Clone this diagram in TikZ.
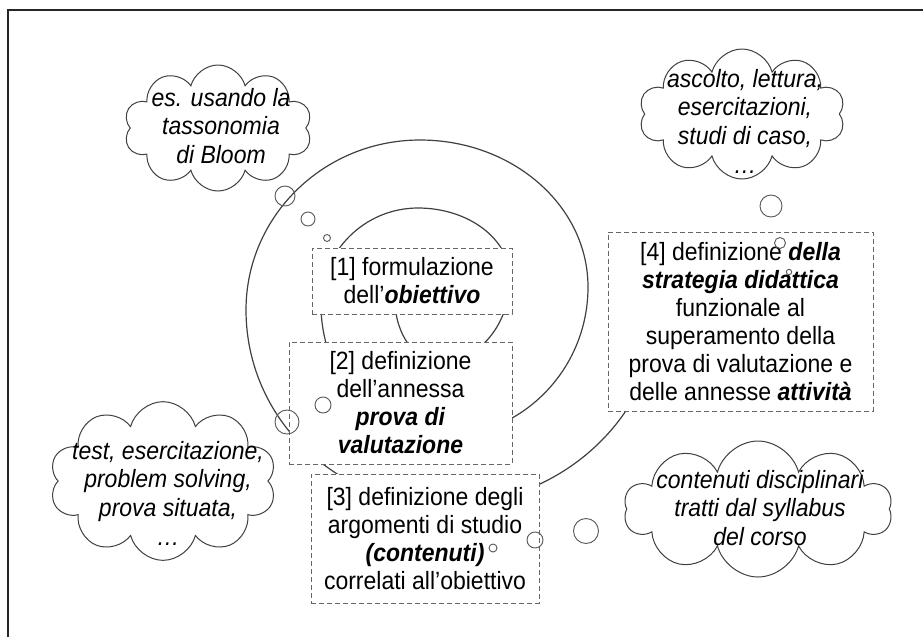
\documentclass[tikz,border=0pt]{standalone}
\usepackage{fontspec}
\setmainfont{Liberation Sans}[FakeStretch=0.92]
\usetikzlibrary{shapes.symbols}

\newcommand{\bfit}[1]{\textbf{\textit{#1}}}

\tikzset{
  spiralline/.style={draw=black!75, line width=0.9pt},
  stepbox/.style={draw=black!60, fill=white, line width=0.75pt, dash pattern=on 3.75pt off 2.25pt,
    align=center, inner sep=0pt, font=\fontsize{18.75}{21}\selectfont},
  bubble/.style={cloud, draw=black!75, fill=white, line width=0.75pt, cloud puffs=10,
    cloud ignores aspect, inner sep=0pt},
  bubtext/.style={align=center, inner sep=0pt, font=\fontsize{18.75}{21.5}\selectfont\itshape},
  dotline/.style={draw=black!65, line width=0.7pt},
  frameline/.style={draw=black!85, line width=1pt}
}

\begin{document}
\begin{tikzpicture}[x=0.75pt, y=-0.75pt]
  \useasboundingbox (0,0) rectangle (923,637);
  % spiral, from the centre outwards
  \draw[spiralline] (445,258)
    arc[start angle=-90, end angle=-180, x radius=50, y radius=42]
    arc[start angle=-180, end angle=-270, x radius=45, y radius=62]
    arc[start angle=-270, end angle=-360, x radius=70, y radius=84]
    arc[start angle=0, end angle=-90, x radius=92, y radius=70]
    arc[start angle=-90, end angle=-180, x radius=97, y radius=97]
    arc[start angle=-180, end angle=-270, x radius=119, y radius=132]
    arc[start angle=-270, end angle=-360, x radius=148, y radius=150]
    arc[start angle=0, end angle=-90, x radius=168, y radius=147]
    arc[start angle=-90, end angle=-180, x radius=174, y radius=170]
    arc[start angle=-180, end angle=-270, x radius=199, y radius=195]
    arc[start angle=-270, end angle=-360, x radius=215, y radius=205];

  \node[stepbox, minimum width=150pt, minimum height=49.5pt] (obiettivo) at (412,281)
    {[1] formulazione\\dell’\bfit{obiettivo}};
  \node[stepbox, minimum width=167.25pt, minimum height=91.5pt] (prova) at (400.5,403)
    {[2] definizione\\dell’annessa\\\bfit{prova di}\\\bfit{valutazione}};
  \node[stepbox, minimum width=171pt, minimum height=96.75pt] (contenuti) at (425,538.5)
    {[3] definizione degli\\argomenti di studio\\\bfit{(contenuti)}\\correlati all’obiettivo};
  \node[stepbox, minimum width=198.75pt, minimum height=134.25pt] (strategia) at (740.5,321.5)
    {[4] definizione \bfit{della}\\\bfit{strategia didattica}\\funzionale al\\superamento della\\prova di valutazione e\\delle annesse \bfit{attività}};

  % thought bubbles
  \node[bubble, minimum width=141pt, minimum height=94.5pt] (bloom) at (218,128) {};
  \node[bubtext] (bloomtext) at (221,126) {es. usando la\\tassonomia\\di Bloom};
  \node[bubble, minimum width=154.5pt, minimum height=97.5pt] (ascolto) at (742,114) {};
  \node[bubtext] (ascoltotext) at (745,121) {ascolto, lettura,\\esercitazioni,\\studi di caso,\\…};
  \node[bubble, minimum width=170pt, minimum height=119pt] (test) at (163,481) {};
  \node[bubtext] (testtext) at (168,493) {test, esercitazione,\\problem solving,\\prova situata,\\…};
  \node[bubble, minimum width=201pt, minimum height=102pt] (syllabus) at (758,509) {};
  \node[bubtext] (syllabustext) at (760,508) {contenuti disciplinari\\tratti dal syllabus\\del corso};

  \draw[dotline] (285,196) circle[radius=10];
  \draw[dotline] (308,219) circle[radius=7];
  \draw[dotline] (327,238) circle[radius=3.5];
  \draw[dotline] (771,206) circle[radius=11];
  \draw[dotline] (780,243) circle[radius=5.5];
  \draw[dotline] (789,272) circle[radius=2.7];
  \draw[dotline] (287,422) circle[radius=12];
  \draw[dotline] (323,405) circle[radius=8];
  \draw[dotline] (586,531) circle[radius=12.5];
  \draw[dotline] (535,540) circle[radius=8];
  \draw[dotline] (493,548) circle[radius=4];

  \draw[frameline] (8,637) -- (8,10) -- (923,10);
\end{tikzpicture}
\end{document}
